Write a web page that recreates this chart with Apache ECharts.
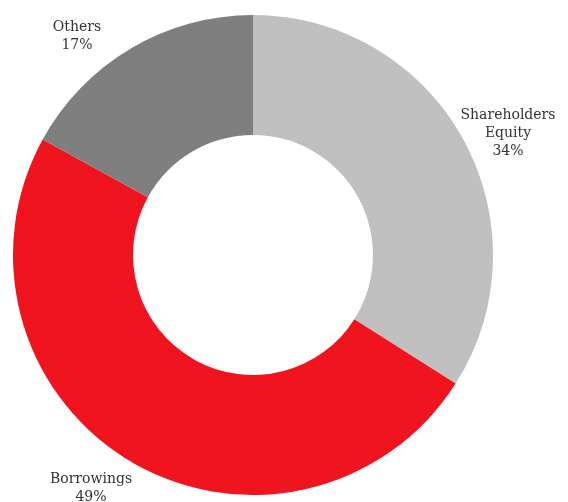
<!DOCTYPE html>
<html>
<head>
<meta charset="utf-8">
<script src="https://cdn.jsdelivr.net/npm/echarts@6/dist/echarts.min.js"></script>
<style>
  html, body { margin: 0; padding: 0; background: #fff; }
  #chart { width: 568px; height: 502px; }
</style>
</head>
<body>
<div id="chart"></div>
<script>
// Funding mix, shares in percent (clockwise from 12 o'clock)
const categories = ['Shareholders\nEquity', 'Borrowings', 'Others'];
const shares = [34, 49, 17];
const colors = ['#c0c0c0', '#f0141e', '#7f7f7f'];

// Label anchors (centre of each text block)
const labelAnchors = [[508, 133], [91, 488], [77, 36]];

const chart = echarts.init(document.getElementById('chart'), null, { renderer: 'canvas' });

chart.setOption({
  animation: false,
  series: [{
    type: 'pie',
    center: [253, 255],
    radius: [120, 240],
    startAngle: 90,
    clockwise: true,
    silent: true,
    data: categories.map((name, i) => ({
      name: name,
      value: shares[i],
      itemStyle: { color: colors[i] }
    })),
    label: {
      show: true,
      position: 'outside',
      formatter: p => p.name + '\n' + p.value + '%',
      fontFamily: 'DejaVu Serif',
      fontSize: 14,
      lineHeight: 18,
      color: '#333333',
      align: 'center',
      overflow: 'none',
      width: 140
    },
    labelLine: { show: false },
    labelLayout: function (params) {
      const a = labelAnchors[params.dataIndex];
      return {
        x: a[0],
        y: a[1],
        align: 'center',
        verticalAlign: 'middle'
      };
    }
  }]
});
</script>
</body>
</html>
